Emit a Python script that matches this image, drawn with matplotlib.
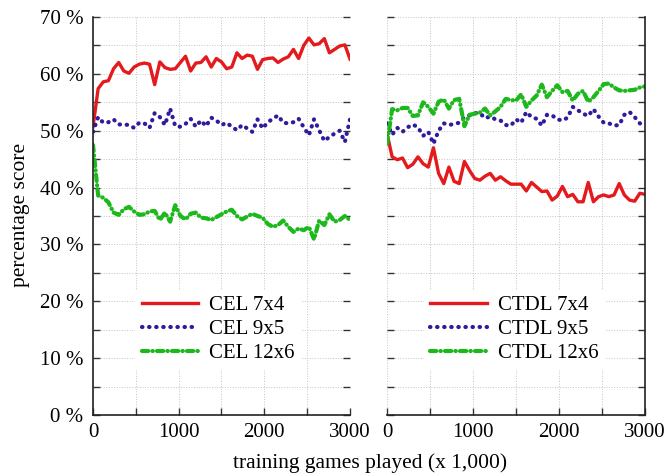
import numpy as np
import matplotlib
matplotlib.use('Agg')
import matplotlib.pyplot as plt
from matplotlib.ticker import MultipleLocator, FuncFormatter

plt.rcParams['font.family'] = 'Liberation Serif'

# training games played (x 1,000), sampled every 60
games = np.arange(0, 3001, 60)

cel_7x4 = [50.7, 57.4, 58.6, 58.8, 60.9, 62.0, 60.5, 60.1, 61.2, 61.7, 61.9, 61.7, 58.1,
           62.1, 61.1, 60.8, 60.9, 62.0, 63.1, 60.5, 61.9, 62.0, 63.0, 61.2, 62.7, 62.1,
           60.9, 61.2, 63.7, 62.7, 63.3, 63.1, 60.8, 62.5, 62.7, 62.8, 62.0, 62.6, 63.0,
           64.3, 62.7, 65.0, 66.3, 65.1, 65.3, 66.2, 63.7, 64.3, 64.9, 65.1, 62.6]
cel_9x5 = [49.8, 52.4, 51.4, 51.5, 52.0, 51.1, 51.1, 51.0, 50.5, 51.4, 51.3, 50.5, 53.1,
           52.4, 51.0, 53.9, 50.8, 50.7, 51.2, 52.1, 50.7, 51.8, 50.8, 52.3, 51.8, 51.0,
           51.4, 50.7, 50.1, 51.0, 50.4, 49.8, 52.0, 50.4, 51.5, 52.1, 52.7, 51.4, 51.3,
           51.5, 52.1, 50.6, 49.2, 52.0, 50.1, 48.2, 48.9, 49.5, 50.0, 48.0, 52.0]
cel_12x6 = [47.5, 38.6, 38.2, 37.4, 35.6, 35.2, 36.2, 36.6, 35.8, 35.2, 35.3, 35.8, 35.9,
            34.3, 35.6, 34.0, 36.9, 35.0, 34.4, 35.4, 35.6, 34.7, 34.6, 34.3, 34.8, 35.3,
            35.8, 36.1, 35.0, 34.4, 34.9, 35.4, 35.0, 34.7, 33.6, 33.1, 33.4, 34.2, 33.1,
            32.2, 32.8, 32.5, 33.1, 30.9, 34.2, 33.4, 35.3, 34.0, 34.3, 35.0, 34.3]

ctdl_7x4 = [49.5, 45.4, 44.9, 45.2, 43.5, 44.1, 45.4, 44.2, 43.6, 47.0, 42.5, 40.7, 43.6,
            41.1, 40.7, 44.6, 43.0, 41.6, 41.3, 42.0, 42.5, 41.3, 41.9, 41.2, 40.6, 40.6,
            40.6, 39.4, 40.9, 40.1, 39.3, 39.4, 37.8, 38.5, 40.2, 38.4, 38.8, 37.5, 37.5,
            40.9, 37.5, 38.4, 38.7, 38.4, 38.7, 40.7, 38.7, 37.8, 37.6, 39.0, 38.8]
ctdl_9x5 = [51.3, 49.3, 50.5, 49.8, 50.6, 51.1, 50.6, 49.1, 49.8, 47.7, 50.0, 51.3, 51.0,
            51.2, 51.4, 52.4, 52.7, 53.1, 53.1, 52.2, 52.5, 52.0, 51.8, 51.0, 50.9, 52.0,
            51.4, 53.3, 52.4, 52.1, 50.9, 52.8, 52.7, 52.0, 51.8, 52.3, 54.2, 53.6, 53.0,
            52.6, 53.8, 52.5, 51.4, 51.3, 50.9, 51.0, 52.8, 53.3, 52.4, 51.3, 50.8]
ctdl_12x6 = [47.7, 53.8, 53.6, 54.0, 54.0, 52.6, 52.7, 55.0, 54.2, 53.0, 55.1, 55.5, 53.9,
             55.4, 55.6, 50.8, 52.8, 53.0, 53.2, 53.9, 52.7, 53.4, 54.2, 55.6, 55.4, 55.3,
             56.4, 54.2, 55.3, 56.2, 58.1, 55.9, 57.0, 58.0, 56.8, 57.0, 55.3, 56.5, 57.0,
             55.1, 55.9, 57.0, 58.2, 58.3, 57.6, 57.1, 57.0, 57.1, 57.2, 57.6, 57.8]

red = '#e41a1c'
blue = '#2f1b9c'
green = '#1cb81c'
styles = [dict(color=red, ls='-', lw=2.4),
          dict(color=blue, ls=(0, (0.1, 1.6)), lw=3.0, dash_capstyle='round'),
          dict(color=green, ls=(0, (1.5, 1.0, 0.1, 1.0)), lw=3.0, dash_capstyle='round')]

fig = plt.figure(figsize=(6.7, 4.75), dpi=100)
ax1 = fig.add_axes([93 / 670, 1 - 415 / 475, 257 / 670, 398 / 475])
ax2 = fig.add_axes([387 / 670, 1 - 415 / 475, 258 / 670, 398 / 475])

panels = [(ax1, 'CEL', [cel_7x4, cel_9x5, cel_12x6], 0.195),
          (ax2, 'CTDL', [ctdl_7x4, ctdl_9x5, ctdl_12x6], 0.174)]
names = ['7x4', '9x5', '12x6']

for ax, prefix, series, lx in panels:
    for vals, name, st in zip(series, names, styles):
        ax.plot(games, vals, label=f'{prefix} {name}', **st)
    ax.set_xlim(0, 3000)
    ax.set_ylim(0, 70)
    ax.xaxis.set_major_locator(MultipleLocator(1000))
    ax.xaxis.set_minor_locator(MultipleLocator(500))
    ax.yaxis.set_major_locator(MultipleLocator(10))
    ax.yaxis.set_minor_locator(MultipleLocator(5))
    ax.grid(True, which='both', ls=':', lw=0.7, color='#c4c4c4')
    ax.set_axisbelow(True)
    ax.tick_params(which='both', direction='in', left=True, right=True, top=False,
                   color='#333333', labelsize=15, length=5, width=1.0)
    ax.tick_params(axis='x', pad=6)
    ax.tick_params(axis='y', pad=7)
    ax.spines['top'].set_visible(False)
    for sp in ax.spines.values():
        sp.set_linewidth(1.2)
        sp.set_color('#222222')
    leg = ax.legend(loc='upper left', bbox_to_anchor=(lx - 0.03, 0.315), fontsize=15,
                    frameon=True, edgecolor='none', facecolor='white', framealpha=1,
                    handlelength=2.7, handletextpad=0.55, labelspacing=0.2,
                    borderpad=0.3, borderaxespad=0, fancybox=False)

ax1.spines['right'].set_visible(False)
ax1.yaxis.set_major_formatter(FuncFormatter(lambda v, p: f'{int(v)} %'))
ax2.spines['left'].set_visible(False)
ax2.tick_params(axis='y', labelleft=False)

fig.text(0.03, 0.548, 'percentage score', rotation=90, ha='center', va='center', fontsize=15.5)
fig.text(370 / 670, 0.026, 'training games played (x 1,000)', ha='center', va='center', fontsize=15.5)

fig.savefig('out.png', dpi=100)
